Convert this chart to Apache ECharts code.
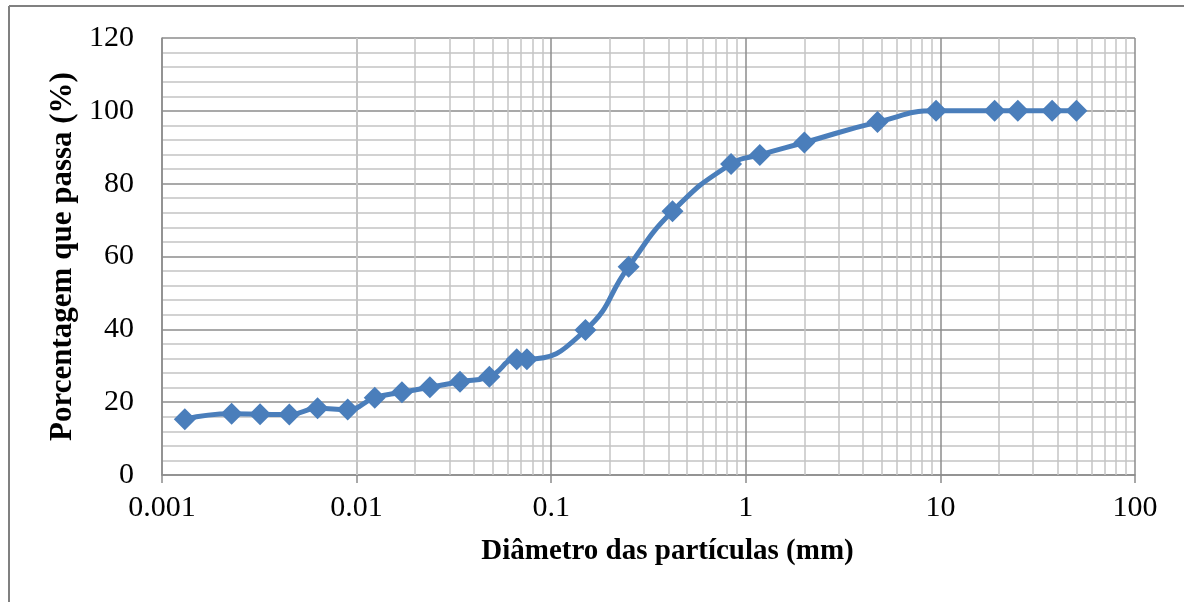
<!DOCTYPE html>
<html>
<head>
<meta charset="utf-8">
<script src="https://cdn.jsdelivr.net/npm/echarts@6/dist/echarts.min.js"></script>
<style>html,body{margin:0;padding:0;background:#fff;}#c{width:1184px;height:602px;}</style>
</head>
<body>
<div id="c"></div>
<script>
// Data
const diameters = [0.00131, 0.00228, 0.00319, 0.00451, 0.0063, 0.009, 0.0124, 0.0171, 0.0238, 0.034, 0.0481, 0.0665, 0.075, 0.15, 0.25, 0.42, 0.84, 1.18, 2.0, 4.75, 9.5, 19, 25, 37.5, 50];
const passing   = [15.3, 16.8, 16.7, 16.6, 18.3, 18.0, 21.2, 22.7, 24.1, 25.6, 27.0, 31.8, 31.8, 39.8, 57.2, 72.4, 85.4, 87.9, 91.3, 96.9, 100, 100, 100, 100, 100];
const xTicks = ['0.001', '0.01', '0.1', '1', '10', '100'];
const yTicks = [0, 20, 40, 60, 80, 100, 120];
const xTitle = 'Diâmetro das partículas (mm)';
const yTitle = 'Porcentagem que passa (%)';

const decades = xTicks.map(Number);
const minorX = [];
for (let i = 0; i < decades.length - 1; i++) {
  for (let k = 2; k <= 9; k++) minorX.push(parseFloat((decades[i] * k).toPrecision(6)));
}

const font = '"Liberation Serif", "Times New Roman", serif';
const chart = echarts.init(document.getElementById('c'));
chart.setOption({
  animation: false,
  backgroundColor: '#fff',
  grid: { left: 162, right: 49, top: 38, bottom: 127, containLabel: false },
  xAxis: {
    type: 'log', logBase: 10,
    min: decades[0], max: decades[decades.length - 1],
    name: xTitle, nameLocation: 'middle', nameGap: 62,
    nameTextStyle: { fontFamily: font, fontSize: 29, fontWeight: 'bold', color: '#000', padding: [0, 0, 0, 38] },
    axisLine: { show: true, lineStyle: { color: '#8c8c8c', width: 1.5 } },
    axisTick: { show: true, inside: false, length: 8, lineStyle: { color: '#8c8c8c', width: 1.5 } },
    axisLabel: {
      fontFamily: font, fontSize: 30, color: '#000', margin: 18,
      formatter: v => parseFloat(Number(v).toPrecision(6)).toString()
    },
    splitLine: { show: true, lineStyle: { color: '#8c8c8c', width: 1.5 } },
    minorTick: { show: false }, minorSplitLine: { show: false }
  },
  yAxis: {
    type: 'value', min: yTicks[0], max: yTicks[yTicks.length - 1], interval: 20,
    name: yTitle, nameLocation: 'middle', nameGap: 80,
    nameTextStyle: { fontFamily: font, fontSize: 31, fontWeight: 'bold', color: '#000' },
    axisLine: { show: true, lineStyle: { color: '#8c8c8c', width: 1.5 } },
    axisTick: { show: false },
    axisLabel: { fontFamily: font, fontSize: 30, color: '#000', margin: 28 },
    splitLine: { show: true, lineStyle: { color: '#8c8c8c', width: 1.5 } },
    minorTick: { show: false, splitNumber: 5 },
    minorSplitLine: { show: true, lineStyle: { color: '#c4c4c4', width: 1.5 } }
  },
  series: [
    {
      type: 'line', z: 1, data: [], silent: true,
      markLine: {
        z: 1, silent: true, symbol: ['none', 'none'], label: { show: false },
        lineStyle: { color: '#c4c4c4', width: 1.5, type: 'solid' },
        data: minorX.map(v => ({ xAxis: v }))
      }
    },
    {
      type: 'line', z: 3,
      data: diameters.map((d, i) => [d, passing[i]]),
      smooth: 0.5,
      symbol: 'diamond', symbolSize: 22,
      lineStyle: { color: '#4a7ebb', width: 5 },
      itemStyle: { color: '#4a7ebb' }
    }
  ],
  graphic: [
    { type: 'line', shape: { x1: 9, y1: 6, x2: 1184, y2: 6 }, style: { stroke: '#808080', lineWidth: 2 } },
    { type: 'line', shape: { x1: 9, y1: 6, x2: 9, y2: 602 }, style: { stroke: '#808080', lineWidth: 2 } }
  ]
});
</script>
</body>
</html>
